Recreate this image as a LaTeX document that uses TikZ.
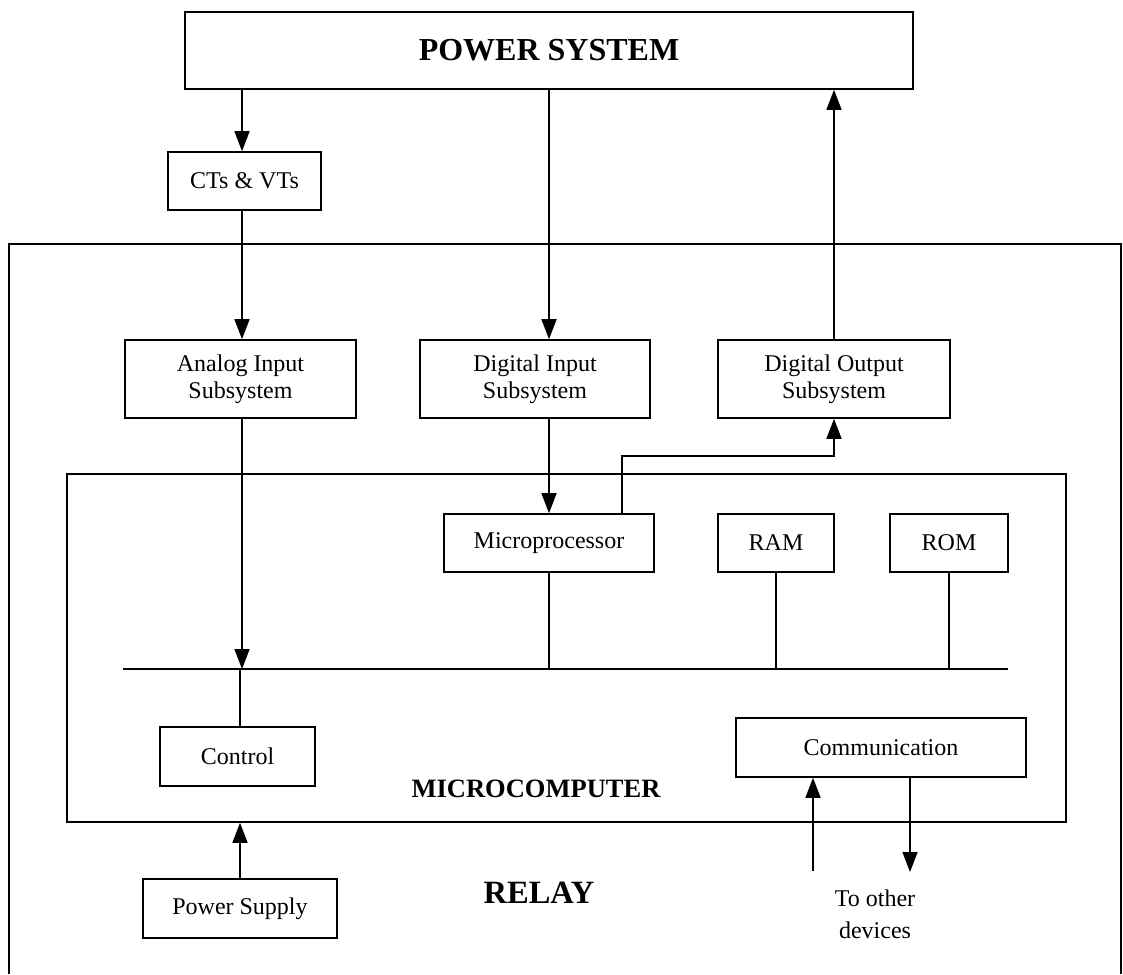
\documentclass[tikz,border=0pt]{standalone}
\usepackage{fontspec}
\setmainfont{Liberation Serif}
\usepackage{tikz}
\usetikzlibrary{positioning,arrows.meta,calc}

\begin{document}
\begin{tikzpicture}[x=1pt,y=-1pt,
  blk/.style={draw,line width=1.6pt,inner sep=0pt,align=center,font=\fontsize{24}{27}\selectfont},
  frame/.style={draw,line width=1.6pt,inner sep=0pt},
  arr/.style={line width=1.5pt,-{Triangle[length=20pt,width=15pt]}},
  wire/.style={line width=1.5pt},
  bus/.style={line width=2.6pt}]
\useasboundingbox (0,0) rectangle (1123,974);
% outer frames (the relay frame runs off the page at the bottom)
\draw[frame] (9,974) |- (1121,244) -- (1121,974);
\node[frame,minimum width=999pt,minimum height=348pt] (mc) at (566.5,648) {};
% blocks
\node[blk,minimum width=728pt,minimum height=77pt,font=\fontsize{32}{35}\selectfont\bfseries] (ps) at (549,50.5) {POWER SYSTEM};
\node[blk,minimum width=153pt,minimum height=58pt] (ctvt) at (244.5,181) {CTs \& VTs};
\foreach \n/\x/\w/\t in {ain/240.5/231/{Analog Input\\Subsystem},din/535/230/{Digital Input\\Subsystem},dout/834/232/{Digital Output\\Subsystem}}
  \node[blk,minimum width=\w pt,minimum height=78pt] (\n) at (\x,379) {\t};
\foreach \n/\x/\w/\t in {micro/549/210/Microprocessor,ram/776/116/RAM,rom/949/118/ROM}
  \node[blk,minimum width=\w pt,minimum height=58pt] (\n) at (\x,543) {\t};
\node[blk,minimum width=155pt,minimum height=59pt] (ctrl) at (237.5,756.5) {Control};
\node[blk,minimum width=290pt,minimum height=59pt] (comm) at (881,747.5) {Communication};
\node[blk,minimum width=194pt,minimum height=59pt] (psu) at (240,908.5) {Power Supply};
% labels
\node[font=\fontsize{26.5}{29}\selectfont\bfseries] (mclbl) at (536,789) {MICROCOMPUTER};
\node[font=\fontsize{32.5}{35}\selectfont\bfseries] (relaylbl) at (539,893) {RELAY};
\node[align=center,font=\fontsize{24}{32}\selectfont] (other) at (875,914) {To other\\devices};
% bus
\coordinate (busL) at (123,669);
\coordinate (busR) at (1008,669);
\draw[bus] (busL) -- (busR);
% connectors
\draw[arr] ([xshift=-2.5pt]ctvt.north |- ps.south) -- ([xshift=-2.5pt]ctvt.north);
\draw[arr] ([xshift=-2.5pt]ctvt.south) -- ([xshift=-2.5pt]ctvt.south |- ain.north);
\draw[arr] (micro.north |- ps.south) -- (micro.north |- din.north);
\draw[arr] (micro.north |- din.south) -- (micro.north);
\draw[arr] (dout.north) -- (dout.north |- ps.south);
\draw[arr] ([xshift=73pt]micro.north) -- ++(0,-57) -| (dout.south);
\draw[arr] ([xshift=1.5pt]ain.south) -- ([xshift=1.5pt]ain.south |- busL);
\foreach \n in {micro,ram,rom}
  \draw[wire] (\n.south) -- (\n.south |- busL);
\draw[wire] ([xshift=2.5pt]ctrl.north |- busL) -- ([xshift=2.5pt]ctrl.north);
\draw[arr] (psu.north) -- (psu.north |- mc.south);
\coordinate (cin) at (813,871);
\coordinate (cout) at (910,872);
\draw[arr] (cin) -- (cin |- comm.south);
\draw[arr] (cout |- comm.south) -- (cout);
\end{tikzpicture}
\end{document}
